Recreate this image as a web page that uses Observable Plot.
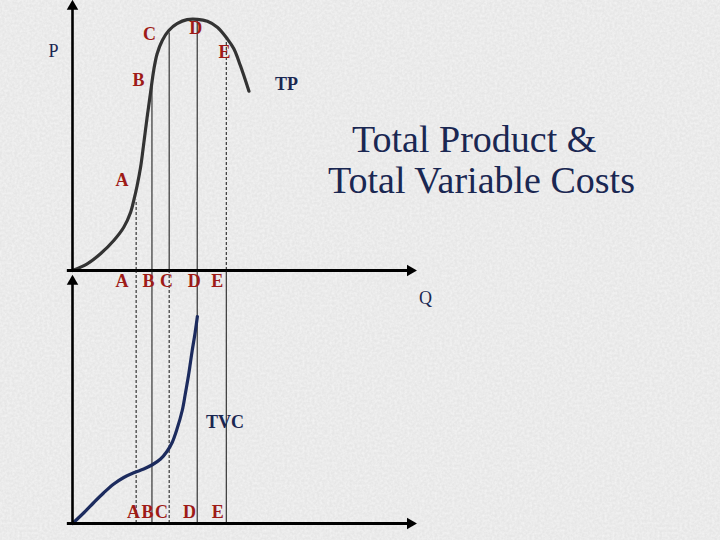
<!DOCTYPE html>
<html>
<head>
<meta charset="utf-8">
<script src="https://cdn.jsdelivr.net/npm/d3@7"></script>
<script src="https://cdn.jsdelivr.net/npm/@observablehq/plot@0.6"></script>
<style>
  html, body { margin: 0; padding: 0; width: 720px; height: 540px; overflow: hidden; background: #ebebeb; }
  #wrap { position: relative; width: 720px; height: 540px; }
  #wrap > svg, #wrap > div { position: absolute; left: 0; top: 0; }
  .title { font-family: "Liberation Serif", "DejaVu Serif", serif; font-size: 38px; line-height: 42px; color: #1a2752; white-space: nowrap; }
</style>
</head>
<body>
<div id="wrap">
  <svg id="bg" width="720" height="540">
    <filter id="noise"><feTurbulence type="fractalNoise" baseFrequency="0.4" numOctaves="2" seed="7"/>
      <feColorMatrix type="matrix" values="0 0 0 0 1  0 0 0 0 1  0 0 0 0 1  0 0 0 -1.4 1.05"/></filter>
    <rect width="720" height="540" fill="#e6e6e6"/>
    <rect width="720" height="540" filter="url(#noise)" opacity="0.55"/>
  </svg>
</div>
<script>
(() => {
// ---- data (Q and TP / TVC in chart units) ----
const tpQ = [0, 4.27, 8.14, 12.0, 14.9, 16.9, 17.8, 18.8, 19.8, 20.7, 21.7, 22.7, 23.6, 24.6, 26.1, 28.0, 30.4, 33.3, 36.3, 39.2, 42.1, 45.0, 46.9, 48.8, 51.3];
const tpVal = [0, 2.48, 6.19, 11.1, 16.0, 21.6, 25.9, 31.5, 38.3, 46.9, 56.8, 66.0, 74.1, 80.3, 85.2, 88.9, 91.4, 92.9, 93.0, 92.3, 90.1, 85.8, 82.1, 75.9, 66.4];

const tvcQ = [0, 3.3, 6.2, 9.1, 12.0, 14.9, 17.8, 20.7, 23.2, 25.6, 27.5, 29.0, 30.4, 31.9, 32.8, 33.8, 34.8, 35.6, 36.3];
const tvcVal = [0, 4.3, 8.4, 12.3, 15.8, 18.4, 20.3, 21.8, 23.5, 25.8, 28.9, 32.5, 37.9, 45.2, 51.9, 59.9, 69.2, 75.9, 82.8];

const pointNames = ["A", "B", "C", "D", "E"];
const pointQ = [18.5, 23.1, 28.1, 36.25, 44.7];
const pointTP = [26.0, 67.8, 88.0, 93.0, 85.5];
const topDashed = [true, false, false, false, true];
const bottomDashed = [true, false, true, false, false];

// label annotations (chart units)
const topLabelText = ["A", "B", "C", "D", "E"];
const topLabelQ = [14.4, 19.2, 22.4, 35.8, 44.2];
const topLabelTP = [33.3, 70.4, 87.4, 89.6, 80.7];
const midLabelQ = [14.4, 22.1, 27.3, 35.4, 42.1];
const midLabelTVC = 96.8;
const lowLabelQ = [17.7, 21.8, 25.9, 34.0, 42.2];
const lowLabelTVC = 4.4;

const titleLines = ["Total Product &", "Total Variable Costs"];

// ---- build tables ----
const tp = tpQ.map((q, i) => ({q, v: tpVal[i]}));
const tvc = tvcQ.map((q, i) => ({q, v: tvcVal[i]}));
const guides = pointNames.map((n, i) => ({n, q: pointQ[i], tp: pointTP[i], td: topDashed[i], bd: bottomDashed[i]}));
const topLabels = topLabelText.map((t, i) => ({t, q: topLabelQ[i], v: topLabelTP[i]}));
const midLabels = pointNames.map((t, i) => ({t, q: midLabelQ[i], v: midLabelTVC}));
const lowLabels = pointNames.map((t, i) => ({t, q: lowLabelQ[i], v: lowLabelTVC}));

const RED = "#9e1b17", NAVY = "#1a2752", SERIF = "Liberation Serif";
const common = {
  width: 720, height: 540, marginLeft: 72, marginRight: 304,
  x: {domain: [0, 100], axis: null},
  y: {domain: [0, 100], axis: null},
  style: {background: "transparent", overflow: "visible"}
};

// axis with small filled arrowheads
function axes(yTip) {
  return [
    Plot.ruleX([0], {y1: 0, y2: yTip - 3, stroke: "#000", strokeWidth: 2.6}),
    Plot.dot([{q: 0, v: yTip - 2.2}], {x: "q", y: "v", symbol: "triangle2", r: 5.5, fill: "#000", stroke: "none"}),
    Plot.ruleY([0], {x1: -1.5, x2: 97.5, stroke: "#000", strokeWidth: 3}),
    Plot.dot([{q: 98.2, v: 0}], {x: "q", y: "v", symbol: "triangle2", r: 5.5, fill: "#000", stroke: "none", rotate: 90})
  ];
}

const topPlot = Plot.plot({
  ...common, marginTop: 0, marginBottom: 270,
  marks: [
    Plot.ruleX(guides.filter(d => d.td), {x: "q", y1: 0, y2: "tp", stroke: "#111", strokeWidth: 1, strokeDasharray: "3,2"}),
    Plot.ruleX(guides.filter(d => !d.td), {x: "q", y1: 0, y2: "tp", stroke: "#111", strokeWidth: 1}),
    Plot.line(tp, {x: "q", y: "v", curve: "catmull-rom", stroke: "#333", strokeWidth: 3.2}),
    ...axes(100),
    Plot.text(topLabels, {x: "q", y: "v", text: "t", fill: RED, fontSize: 18, fontWeight: "bold", fontFamily: SERIF}),
    Plot.text([{t: "P", q: -5.5, v: 81.1}], {x: "q", y: "v", text: "t", fill: NAVY, fontSize: 18, fontFamily: SERIF}),
    Plot.text([{t: "TP", q: 62.2, v: 68.9}], {x: "q", y: "v", text: "t", fill: NAVY, fontSize: 18, fontWeight: "bold", fontFamily: SERIF})
  ]
});

const bottomPlot = Plot.plot({
  ...common, marginTop: 273, marginBottom: 17,
  marks: [
    Plot.ruleX(guides.filter(d => d.bd), {x: "q", y1: 0, y2: 101.2, stroke: "#111", strokeWidth: 1, strokeDasharray: "3,2"}),
    Plot.ruleX(guides.filter(d => !d.bd), {x: "q", y1: 0, y2: 101.2, stroke: "#111", strokeWidth: 1}),
    Plot.line(tvc, {x: "q", y: "v", curve: "catmull-rom", stroke: "#1c2b5e", strokeWidth: 3.2}),
    ...axes(99),
    Plot.text(midLabels, {x: "q", y: "v", text: "t", fill: RED, fontSize: 18, fontWeight: "bold", fontFamily: SERIF}),
    Plot.text(lowLabels, {x: "q", y: "v", text: "t", fill: RED, fontSize: 18, fontWeight: "bold", fontFamily: SERIF}),
    Plot.text([{t: "TVC", q: 44.3, v: 40.6}], {x: "q", y: "v", text: "t", fill: NAVY, fontSize: 18, fontWeight: "bold", fontFamily: SERIF}),
    Plot.text([{t: "Q", q: 102.6, v: 90.0}], {x: "q", y: "v", text: "t", fill: NAVY, fontSize: 18, fontFamily: SERIF})
  ]
});

const wrap = document.getElementById("wrap");
wrap.appendChild(topPlot);
wrap.appendChild(bottomPlot);

const t1 = document.createElement("div");
t1.className = "title"; t1.textContent = titleLines[0];
t1.style.left = "352px"; t1.style.top = "118px";
const t2 = document.createElement("div");
t2.className = "title"; t2.textContent = titleLines[1];
t2.style.left = "328px"; t2.style.top = "159px";
wrap.appendChild(t1);
wrap.appendChild(t2);
})();
</script>
</body>
</html>
